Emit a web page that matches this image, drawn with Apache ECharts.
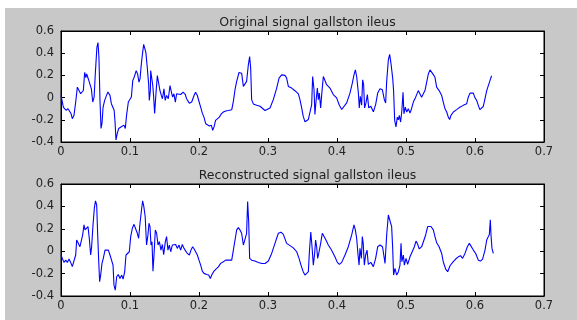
<!DOCTYPE html>
<html>
<head>
<meta charset="utf-8">
<script src="https://cdn.jsdelivr.net/npm/echarts@6/dist/echarts.min.js"></script>
<style>
  html, body { margin: 0; padding: 0; background: #ffffff; }
  #chart { width: 577px; height: 320px; }
</style>
</head>
<body>
<div id="chart"></div>
<script>
// Panel titles
const titles = ['Original signal gallston ileus', 'Reconstructed signal gallston ileus'];

// Axis tick values
const xTicks = [0, 0.1, 0.2, 0.3, 0.4, 0.5, 0.6, 0.7];
const yTicks = [-0.4, -0.2, 0, 0.2, 0.4, 0.6];

// Original signal: time (s) and amplitude
const tOrig = [0,0.0034,0.0072,0.0101,0.0118,0.0145,0.0164,0.0188,0.0213,0.0237,0.026,0.0285,0.0304,0.0324,0.0343,0.036,0.0372,0.0396,0.042,0.044,0.046,0.048,0.0497,0.052,0.0536,0.055,0.0565,0.058,0.0594,0.061,0.0633,0.066,0.068,0.071,0.073,0.0749,0.077,0.0783,0.0797,0.0816,0.0836,0.0855,0.0874,0.0894,0.0913,0.0932,0.095,0.0976,0.1,0.102,0.104,0.106,0.109,0.111,0.113,0.1145,0.1164,0.118,0.1198,0.121,0.123,0.125,0.127,0.128,0.1295,0.130,0.1319,0.133,0.1343,0.1357,0.1376,0.1396,0.1415,0.1434,0.1454,0.147,0.1492,0.151,0.153,0.1555,0.158,0.16,0.1618,0.1637,0.1657,0.1676,0.170,0.1734,0.177,0.180,0.182,0.186,0.1894,0.1928,0.195,0.1976,0.2,0.2024,0.2048,0.2072,0.2097,0.212,0.215,0.218,0.2198,0.222,0.224,0.2266,0.2295,0.2324,0.2353,0.2387,0.2425,0.245,0.2474,0.25,0.2522,0.2546,0.258,0.2618,0.2643,0.2667,0.269,0.2715,0.2734,0.2749,0.2763,0.2787,0.2836,0.2884,0.291,0.2957,0.298,0.3029,0.3077,0.3126,0.316,0.3198,0.3222,0.3246,0.327,0.3295,0.3343,0.339,0.344,0.3463,0.3488,0.351,0.3536,0.356,0.3585,0.3609,0.3633,0.3647,0.3667,0.368,0.3696,0.3715,0.373,0.3744,0.3763,0.3782,0.3802,0.3826,0.385,0.3898,0.3946,0.3995,0.4034,0.4068,0.4092,0.414,0.4188,0.4222,0.4246,0.4266,0.4285,0.431,0.4323,0.4338,0.4357,0.4372,0.4386,0.44,0.442,0.444,0.446,0.449,0.4527,0.456,0.459,0.4623,0.4657,0.4686,0.4705,0.472,0.4744,0.4763,0.4782,0.4807,0.482,0.4836,0.4855,0.4874,0.4889,0.4903,0.4922,0.494,0.4957,0.497,0.499,0.501,0.5034,0.5058,0.508,0.5106,0.514,0.5178,0.52,0.5226,0.525,0.5275,0.5299,0.5324,0.5348,0.537,0.5396,0.542,0.5444,0.548,0.5517,0.554,0.5565,0.559,0.5613,0.5633,0.5652,0.5686,0.5734,0.578,0.583,0.5855,0.5879,0.59,0.5927,0.595,0.5976,0.6,0.6024,0.6048,0.607,0.6096,0.612,0.6145,0.617,0.6193,0.6217,0.624];
const vOrig = [0.02,-0.085,-0.114,-0.10,-0.11,-0.144,-0.19,-0.16,-0.04,0.094,0.08,0.035,0.05,0.064,0.228,0.18,0.213,0.168,0.183,0.079,-0.04,0.005,0.213,0.45,0.496,0.362,-0.025,-0.278,-0.233,-0.085,-0.025,0.02,0.05,0.02,-0.055,-0.04,-0.114,-0.218,-0.382,-0.323,-0.278,-0.293,-0.263,-0.278,-0.248,-0.278,-0.16,-0.04,-0.055,0.005,0.153,0.183,0.243,0.213,0.139,0.168,0.302,0.39,0.48,0.496,0.407,0.273,0.124,-0.025,0.064,0.243,0.228,0.109,0.005,-0.144,0.035,0.198,0.183,0.064,0.02,-0.01,0.079,-0.025,0.02,-0.01,0.109,0.05,0.005,0.035,-0.04,0.035,0.035,0.028,0.049,0.03,-0.01,-0.05,-0.04,0.019,0.049,0.019,-0.035,-0.086,-0.14,-0.176,-0.235,-0.25,-0.256,-0.25,-0.295,-0.26,-0.205,-0.19,-0.176,-0.146,-0.13,-0.12,-0.116,-0.10,-0.11,-0.027,0.071,0.146,0.226,0.22,0.101,0.086,0.146,0.295,0.369,0.265,-0.018,-0.057,-0.069,-0.078,-0.093,-0.116,-0.107,-0.093,-0.018,0.086,0.176,0.205,0.19,0.2,0.176,0.101,0.086,0.062,0.033,-0.018,-0.093,-0.167,-0.218,-0.226,-0.197,-0.197,-0.063,0.19,0.071,-0.152,-0.033,0.086,-0.018,0.04,-0.093,0.054,0.19,0.176,0.116,0.086,0.027,-0.003,-0.069,-0.107,-0.093,-0.048,0.04,0.13,0.205,0.25,0.19,0.04,-0.093,0.012,-0.069,0.16,0.116,-0.093,-0.048,0.027,-0.093,-0.078,-0.128,-0.063,0.042,0.08,0.071,-0.018,-0.048,0.146,0.339,0.39,0.31,0.176,0.063,-0.205,-0.265,-0.176,-0.2,-0.16,-0.22,-0.116,0.049,-0.146,-0.086,-0.13,-0.10,-0.14,-0.1,-0.04,0.004,0.063,0.049,0.004,0.019,0.063,0.138,0.213,0.25,0.24,0.207,0.183,0.094,0.063,0.019,-0.04,-0.1,-0.13,-0.176,-0.197,-0.16,-0.13,-0.108,-0.086,-0.07,-0.08,-0.056,-0.002,0.04,0.055,0.04,-0.002,-0.025,-0.07,-0.108,-0.1,-0.08,-0.01,0.063,0.108,0.153,0.197];

// Reconstructed signal: time (s) and amplitude
const tRec = [0,0.0019,0.0043,0.0068,0.0092,0.0116,0.014,0.0164,0.0188,0.0213,0.0227,0.025,0.0275,0.0299,0.0314,0.0333,0.0348,0.0372,0.0391,0.041,0.043,0.0444,0.0464,0.0483,0.050,0.0517,0.0531,0.0546,0.056,0.0575,0.0594,0.0613,0.0638,0.066,0.0686,0.071,0.0734,0.0754,0.0768,0.0787,0.0807,0.083,0.0855,0.088,0.09,0.0923,0.0942,0.0966,0.099,0.101,0.1034,0.1058,0.1082,0.1106,0.1125,0.1145,0.1164,0.1183,0.12,0.122,0.124,0.126,0.1275,0.129,0.1304,0.1319,0.1333,0.1348,0.1367,0.1386,0.1406,0.1425,0.1449,0.1469,0.1488,0.1512,0.153,0.155,0.157,0.159,0.1613,0.164,0.1662,0.1686,0.171,0.1734,0.1758,0.1783,0.1807,0.1831,0.186,0.1884,0.1908,0.193,0.1952,0.1976,0.2,0.2024,0.2048,0.2072,0.2111,0.214,0.2164,0.2188,0.2217,0.2246,0.228,0.2314,0.2353,0.2387,0.2425,0.245,0.2474,0.2498,0.2522,0.2546,0.257,0.2594,0.2618,0.2643,0.2667,0.269,0.2705,0.272,0.2734,0.2763,0.281,0.286,0.291,0.2957,0.3005,0.3053,0.3101,0.315,0.3188,0.3222,0.3246,0.327,0.3319,0.3367,0.3416,0.345,0.3478,0.351,0.3536,0.356,0.3585,0.36,0.362,0.3638,0.3657,0.3676,0.369,0.3705,0.372,0.374,0.3763,0.3787,0.381,0.384,0.3874,0.392,0.397,0.4005,0.4034,0.4068,0.4116,0.4164,0.4213,0.4246,0.4266,0.4285,0.4305,0.432,0.4333,0.4353,0.4367,0.438,0.4396,0.4415,0.4435,0.4454,0.449,0.4527,0.456,0.459,0.4623,0.466,0.4696,0.472,0.4744,0.4768,0.4792,0.4807,0.482,0.484,0.4865,0.489,0.4913,0.4928,0.494,0.4962,0.4976,0.5,0.5024,0.5058,0.509,0.5121,0.5145,0.5164,0.5193,0.5227,0.525,0.5285,0.5314,0.5338,0.5362,0.5396,0.542,0.5444,0.548,0.5517,0.554,0.5575,0.5604,0.5638,0.5676,0.572,0.5758,0.579,0.582,0.5855,0.5889,0.5918,0.5942,0.5976,0.601,0.6048,0.608,0.611,0.6145,0.617,0.6193,0.6208,0.6222,0.6232,0.6246,0.6266];
const vRec = [-0.034,-0.064,-0.1,-0.08,-0.1,-0.07,-0.1,-0.138,-0.13,-0.034,0.1,0.085,0.04,0.055,0.145,0.235,0.19,0.19,0.22,0.115,-0.034,0.04,0.235,0.384,0.45,0.414,0.16,-0.08,-0.273,-0.213,-0.109,-0.064,0.01,0.025,0.01,-0.034,-0.05,-0.124,-0.303,-0.348,-0.228,-0.208,-0.243,-0.213,-0.25,-0.183,-0.034,-0.02,-0.005,0.13,0.205,0.24,0.235,0.16,0.115,0.25,0.354,0.45,0.4,0.31,0.055,0.145,0.25,0.22,0.055,0.085,-0.178,-0.034,0.19,0.16,0.055,0.085,0.01,0.06,-0.03,0.085,0.13,0.01,0.055,-0.005,0.055,0.04,0.06,0.025,0.055,0.01,0.06,0.025,0.01,-0.02,-0.034,0.01,0.04,0.02,0.01,-0.034,-0.08,-0.124,-0.178,-0.198,-0.208,-0.213,-0.243,-0.208,-0.178,-0.16,-0.14,-0.109,-0.094,-0.08,-0.08,-0.064,-0.08,0.01,0.1,0.19,0.21,0.19,0.16,0.055,0.04,0.16,0.444,0.265,-0.064,-0.08,-0.088,-0.1,-0.11,-0.11,-0.088,-0.02,0.07,0.16,0.17,0.15,0.16,0.07,0.05,0.03,-0.005,-0.064,-0.124,-0.183,-0.213,-0.208,-0.183,-0.005,0.17,0.04,-0.124,-0.02,0.1,0.04,-0.064,-0.005,0.07,0.16,0.145,0.1,0.055,0.01,-0.05,-0.1,-0.118,-0.1,-0.034,0.04,0.145,0.235,0.19,0.115,-0.034,-0.124,0.025,-0.064,0.13,0.07,-0.124,-0.034,0.01,-0.118,-0.1,-0.138,-0.064,0.04,0.055,0.04,-0.109,0.145,0.323,0.338,0.22,0.025,-0.213,-0.153,-0.213,-0.183,-0.124,0.07,-0.094,-0.034,-0.124,-0.064,-0.118,-0.05,-0.005,0.04,0.09,0.07,0.02,0.04,0.055,0.145,0.22,0.235,0.22,0.19,0.13,0.076,0.04,-0.02,-0.094,-0.16,-0.183,-0.13,-0.1,-0.07,-0.05,-0.04,-0.064,-0.02,0.04,0.07,0.055,0.01,-0.02,-0.08,-0.088,-0.07,0.01,0.1,0.13,0.15,0.28,0.145,0.025,-0.02];

const series = [
  { t: tOrig, v: vOrig },
  { t: tRec, v: vRec }
];

// Panel placement (two-row subplot layout)
const panels = [
  { left: 61, top: 31, width: 483, height: 111, titleTop: 11 },
  { left: 61, top: 184, width: 483, height: 112, titleTop: 164 }
];

const FONT = '"DejaVu Sans", Verdana, sans-serif';
const fmt = v => String(+(+v).toFixed(1));

const grid = [], xAxis = [], yAxis = [], seriesOpt = [], title = [];

panels.forEach((p, i) => {
  grid.push({
    left: p.left, top: p.top, width: p.width, height: p.height,
    show: true, backgroundColor: '#ffffff', borderColor: '#000000', borderWidth: 1
  });
  title.push({
    text: titles[i], left: p.left + p.width / 2, top: p.titleTop, textAlign: 'center',
    textStyle: { fontFamily: FONT, fontSize: 12.5, fontWeight: 'normal', color: '#222222' }
  });
  const tickStyle = { show: true, inside: true, length: 4, lineStyle: { color: '#000', width: 1 } };
  const lineStyle = { show: true, onZero: false, lineStyle: { color: '#000', width: 1 } };
  // bottom x axis with labels
  xAxis.push({
    type: 'value', gridIndex: i, position: 'bottom', min: xTicks[0], max: xTicks[xTicks.length - 1], interval: 0.1,
    axisLine: lineStyle, axisTick: tickStyle, splitLine: { show: false },
    axisLabel: { formatter: fmt, fontFamily: FONT, fontSize: 11.5, color: '#222', margin: 4, showMinLabel: true, showMaxLabel: true }
  });
  // top x axis, ticks only
  xAxis.push({
    type: 'value', gridIndex: i, position: 'top', min: xTicks[0], max: xTicks[xTicks.length - 1], interval: 0.1,
    axisLine: lineStyle, axisTick: tickStyle, splitLine: { show: false }, axisLabel: { show: false }
  });
  // left y axis with labels
  yAxis.push({
    type: 'value', gridIndex: i, position: 'left', min: yTicks[0], max: yTicks[yTicks.length - 1], interval: 0.2,
    axisLine: lineStyle, axisTick: tickStyle, splitLine: { show: false },
    axisLabel: { formatter: fmt, fontFamily: FONT, fontSize: 11.5, color: '#222', margin: 7, showMinLabel: true, showMaxLabel: true }
  });
  // right y axis, ticks only
  yAxis.push({
    type: 'value', gridIndex: i, position: 'right', min: yTicks[0], max: yTicks[yTicks.length - 1], interval: 0.2,
    axisLine: lineStyle, axisTick: tickStyle, splitLine: { show: false }, axisLabel: { show: false }
  });
  const s = series[i];
  seriesOpt.push({
    type: 'line', xAxisIndex: 2 * i, yAxisIndex: 2 * i,
    data: s.t.map((t, k) => [t, s.v[k]]),
    showSymbol: false, symbol: 'none', smooth: false, animation: false,
    lineStyle: { color: '#0000ff', width: 1.1 }
  });
});

const chart = echarts.init(document.getElementById('chart'), null, { renderer: 'canvas' });
chart.setOption({
  animation: false,
  backgroundColor: '#ffffff',
  graphic: [{
    type: 'rect', z: -10, silent: true,
    shape: { x: 5, y: 8, width: 572, height: 312 },
    style: { fill: '#c8c8c8' }
  }],
  title, grid, xAxis, yAxis, series: seriesOpt
});
</script>
</body>
</html>
